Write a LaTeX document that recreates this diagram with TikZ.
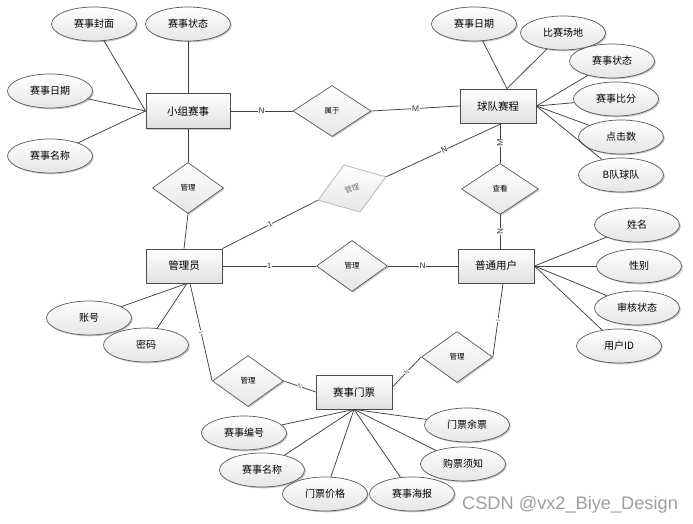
\documentclass[tikz,border=0pt]{standalone}
\usepackage{fontspec}
\setmainfont{Noto Sans CJK SC}
\newfontfamily\wmfont{Liberation Sans}
\usetikzlibrary{shapes.geometric,shadows}
\tikzset{
  shd/.style={drop shadow={shadow xshift=1.3pt,shadow yshift=-1.3pt,opacity=0.22,fill=black}},
  ent/.style={rectangle,draw=black!70,line width=0.8pt,minimum width=76pt,minimum height=34pt,inner sep=0pt,
    top color=white,bottom color=black!12,shd,font=\fontsize{10.5}{12}\selectfont},
  attr/.style={ellipse,draw=black!65,line width=0.7pt,minimum width=85pt,minimum height=34pt,inner sep=0pt,
    top color=white,bottom color=black!10,shd,font=\fontsize{10}{12}\selectfont},
  rel/.style={diamond,draw=black!65,line width=0.7pt,minimum width=71pt,minimum height=51pt,inner sep=0pt,
    top color=white,bottom color=black!10,shd,font=\fontsize{7.5}{9}\selectfont},
  relgrey/.style={diamond,draw=black!30,line width=0.7pt,minimum width=72pt,minimum height=50pt,inner sep=0pt,
    top color=white,bottom color=black!10,text=black!55,font=\fontsize{7.5}{9}\selectfont},
  ln/.style={draw=black!75,line width=0.75pt},
  card/.style={fill=white,inner sep=0.4pt,font=\sffamily\fontsize{8}{9}\selectfont,text=black!85},
  cardsm/.style={fill=white,inner sep=0.3pt,font=\sffamily\fontsize{6}{7}\selectfont,text=black!60},
}
\begin{document}
\begin{tikzpicture}[x=1pt,y=-1pt]
\useasboundingbox (0,0) rectangle (693,524);
% entities
\node[ent,minimum width=84pt,minimum height=35pt] (xz) at (188,111) {小组赛事};
\node[ent] (qd) at (498,106) {球队赛程};
\node[ent] (gly) at (184,266) {管理员};
\node[ent] (pt) at (496,266) {普通用户};
\node[ent] (mp) at (354,392) {赛事门票};
% relationships
\node[rel,minimum width=78pt] (sy) at (332,111) {属于};
\node[rel] (g1) at (188,188) {管理};
\node[relgrey,rotate=19] (gg) at (352,188.5) {管理};
\node[rel,minimum width=77pt] (ck) at (500,189) {查看};
\node[rel] (gm) at (352,266) {管理};
\node[rel] (gbl) at (248,381) {管理};
\node[rel] (gbr) at (457,357) {管理};
% attributes of 小组赛事
\node[attr] (xa1) at (94,24) {赛事封面};
\node[attr] (xa2) at (188,24) {赛事状态};
\node[attr] (xa3) at (50,91) {赛事日期};
\node[attr] (xa4) at (50,156) {赛事名称};
% attributes of 球队赛程
\node[attr] (qa1) at (474,24) {赛事日期};
\node[attr] (qa2) at (563,33) {比赛场地};
\node[attr] (qa3) at (612,61) {赛事状态};
\node[attr] (qa4) at (616,99) {赛事比分};
\node[attr] (qa5) at (621,137) {点击数};
\node[attr] (qa6) at (621,175) {B队球队};
% attributes of 普通用户
\node[attr] (pa1) at (637,225) {姓名};
\node[attr] (pa2) at (639,266) {性别};
\node[attr] (pa3) at (637,308) {审核状态};
\node[attr] (pa4) at (619,346) {用户ID};
% attributes of 管理员
\node[attr] (ga1) at (89,318) {账号};
\node[attr] (ga2) at (146,345) {密码};
% attributes of 赛事门票
\node[attr] (ma1) at (244,433) {赛事编号};
\node[attr] (ma2) at (262,470) {赛事名称};
\node[attr] (ma3) at (325,494) {门票价格};
\node[attr] (ma4) at (412,494) {赛事海报};
\node[attr] (ma5) at (463,464) {购票须知};
\node[attr] (ma6) at (467,425) {门票余票};
% attribute connectors
\draw[ln] (xa1) -- (xz.west);
\draw[ln] (xa2) -- (xz.north);
\draw[ln] (xa3) -- (xz.west);
\draw[ln] (xa4) -- (xz.west);
\draw[ln] (qa1) -- ([xshift=9pt]qd.north);
\draw[ln] (qa2) -- ([xshift=9pt]qd.north);
\draw[ln] (qa3) -- (qd.east);
\draw[ln] (qa4) -- (qd.east);
\draw[ln] (qa5) -- (qd.east);
\draw[ln] (qa6) -- (qd.east);
\draw[ln] (pa1) -- (pt.east);
\draw[ln] (pa2) -- (pt.east);
\draw[ln] (pa3) -- (pt.east);
\draw[ln] (pa4) -- (pt.east);
\draw[ln] (ga1) -- ([xshift=3pt]gly.south);
\draw[ln] (ga2) -- ([xshift=3pt]gly.south);
\draw[ln] (ma1) -- (mp.south);
\draw[ln] (ma2) -- (mp.south);
\draw[ln] (ma3) -- (mp.south);
\draw[ln] (ma4) -- (mp.south);
\draw[ln] (ma5) -- (mp.south);
\draw[ln] (ma6) -- (mp.south);
% relationship connectors
\draw[ln] (xz.east) -- node[card]{N} (sy.west);
\draw[ln] (sy.east) -- node[card]{M} (qd.west);
\draw[ln] (xz.south) -- (g1.north);
\draw[ln] (g1.south) -- (gly.north);
\draw[ln] (gly.north east) -- node[card,sloped]{1} (gg.west);
\draw[ln] (gg.east) -- node[card,sloped]{N} ([xshift=4pt]qd.south);
\draw[ln] (qd.south -| ck.north) -- node[card,rotate=90]{M} (ck.north);
\draw[ln] (ck.south) -- node[card,rotate=90]{N} (ck.south |- pt.north);
\draw[ln] (gly.east) -- node[card]{1} (gm.west);
\draw[ln] (gm.east) -- node[card]{N} (pt.west);
\draw[ln] ([xshift=6pt]gly.south) -- node[cardsm,sloped]{1} (gbl.west);
\draw[ln] (gbl.east) -- node[cardsm,sloped]{N} (mp.west);
\draw[ln] ([xshift=7pt]pt.south) -- node[cardsm,sloped]{1} (gbr.east);
\draw[ln] (gbr.west) -- node[cardsm,sloped]{N} ([yshift=5pt]mp.east);
% watermark
\node[font=\wmfont\fontsize{18.2}{21}\selectfont,text=black!38,anchor=west,inner sep=0pt] (wm) at (462,505) {CSDN @vx2\_Biye\_Design};
\end{tikzpicture}
\end{document}
